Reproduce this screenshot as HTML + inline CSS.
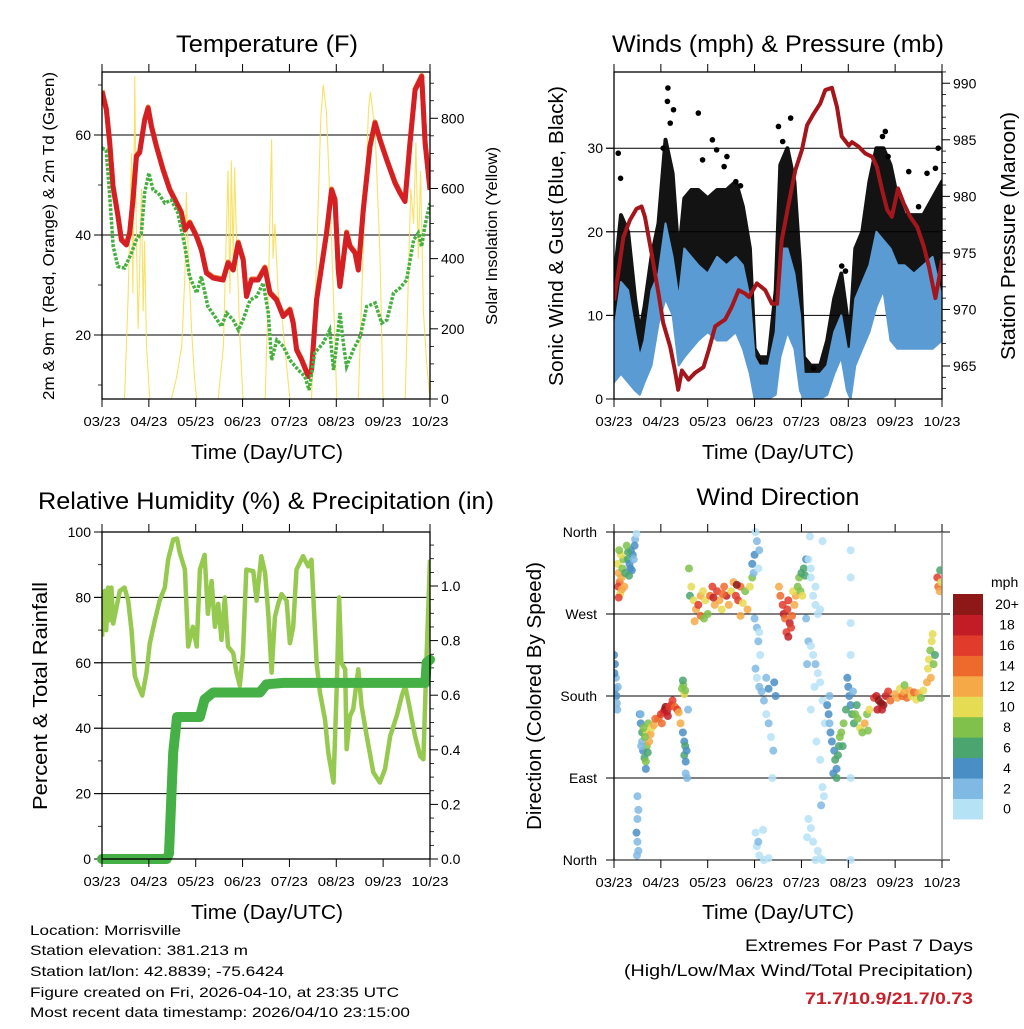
<!DOCTYPE html>
<html><head><meta charset="utf-8"><style>
html,body{margin:0;padding:0;background:#fff}
svg text{font-family:"Liberation Sans",sans-serif;fill:#000}
</style></head><body>
<svg id="s" width="1024" height="1024" viewBox="0 0 1024 1024" xmlns="http://www.w3.org/2000/svg">
<defs>
<clipPath id="c1"><rect x="102" y="72" width="328" height="327"/></clipPath>
<clipPath id="c2"><rect x="614" y="72" width="328" height="327"/></clipPath>
<clipPath id="c3"><rect x="102" y="532" width="328" height="327"/></clipPath>
<clipPath id="c4"><rect x="614" y="526" width="328" height="340"/></clipPath>
</defs>
<g id="g1"></g>
<g id="g2"></g>
<g id="g3"></g>
<g id="g4"></g>
<g id="gt">
<text x="267" y="52" font-size="24" text-anchor="middle" textLength="182" lengthAdjust="spacingAndGlyphs">Temperature (F)</text>
<text x="778" y="52" font-size="24" text-anchor="middle" textLength="332" lengthAdjust="spacingAndGlyphs">Winds (mph) &amp; Pressure (mb)</text>
<text x="266" y="509" font-size="24" text-anchor="middle" textLength="456" lengthAdjust="spacingAndGlyphs">Relative Humidity (%) &amp; Precipitation (in)</text>
<text x="778" y="505" font-size="24" text-anchor="middle" textLength="163" lengthAdjust="spacingAndGlyphs">Wind Direction</text>
<text x="267" y="459" font-size="20" text-anchor="middle" textLength="152" lengthAdjust="spacingAndGlyphs">Time (Day/UTC)</text>
<text x="778" y="459" font-size="20" text-anchor="middle" textLength="152" lengthAdjust="spacingAndGlyphs">Time (Day/UTC)</text>
<text x="267" y="919" font-size="20" text-anchor="middle" textLength="152" lengthAdjust="spacingAndGlyphs">Time (Day/UTC)</text>
<text x="778" y="919" font-size="20" text-anchor="middle" textLength="152" lengthAdjust="spacingAndGlyphs">Time (Day/UTC)</text>
<text transform="translate(54,236) rotate(-90)" font-size="16" text-anchor="middle" textLength="328" lengthAdjust="spacingAndGlyphs">2m &amp; 9m T (Red, Orange) &amp; 2m Td (Green)</text>
<text transform="translate(497,236) rotate(-90)" font-size="16" text-anchor="middle" textLength="178" lengthAdjust="spacingAndGlyphs">Solar Insolation (Yellow)</text>
<text transform="translate(563,236) rotate(-90)" font-size="20" text-anchor="middle" textLength="300" lengthAdjust="spacingAndGlyphs">Sonic Wind &amp; Gust (Blue, Black)</text>
<text transform="translate(1015,236) rotate(-90)" font-size="20" text-anchor="middle" textLength="248" lengthAdjust="spacingAndGlyphs">Station Pressure (Maroon)</text>
<text transform="translate(47,696) rotate(-90)" font-size="20" text-anchor="middle" textLength="228" lengthAdjust="spacingAndGlyphs">Percent &amp; Total Rainfall</text>
<text transform="translate(541,696) rotate(-90)" font-size="20" text-anchor="middle" textLength="268" lengthAdjust="spacingAndGlyphs">Direction (Colored By Speed)</text>
<g font-size="14">
<text x="30" y="935" textLength="151" lengthAdjust="spacingAndGlyphs">Location: Morrisville</text>
<text x="30" y="955" textLength="218" lengthAdjust="spacingAndGlyphs">Station elevation: 381.213 m</text>
<text x="30" y="976" textLength="254" lengthAdjust="spacingAndGlyphs">Station lat/lon: 42.8839; -75.6424</text>
<text x="30" y="997" textLength="369" lengthAdjust="spacingAndGlyphs">Figure created on Fri, 2026-04-10, at 23:35 UTC</text>
<text x="30" y="1017" textLength="380" lengthAdjust="spacingAndGlyphs">Most recent data timestamp: 2026/04/10 23:15:00</text>
</g>
<text x="973" y="951" font-size="17" text-anchor="end" textLength="228" lengthAdjust="spacingAndGlyphs">Extremes For Past 7 Days</text>
<text x="973" y="976" font-size="17" text-anchor="end" textLength="349" lengthAdjust="spacingAndGlyphs">(High/Low/Max Wind/Total Precipitation)</text>
<text x="973" y="1004" font-size="17" font-weight="bold" text-anchor="end" style="fill:#c8202a" textLength="168" lengthAdjust="spacingAndGlyphs">71.7/10.9/21.7/0.73</text>
</g>
</svg>
<script>
// ---------- DATA ----------
const xTickLabels = ["03/23","04/23","05/23","06/23","07/23","08/23","09/23","10/23"];
const tempDays = [0,.093,.164,.235,.342,.413,.52,.591,.662,.734,.805,.912,.983,1.054,1.161,1.303,1.446,1.588,1.695,1.766,1.873,2.016,2.122,2.229,2.372,2.585,2.692,2.799,2.906,3.013,3.084,3.191,3.333,3.476,3.583,3.725,3.868,4.01,4.081,4.152,4.259,4.402,4.473,4.58,4.687,4.793,4.9,4.972,5.043,5.078,5.15,5.221,5.292,5.399,5.47,5.577,5.719,5.826,5.933,6.075,6.254,6.36,6.467,6.574,6.681,6.823,6.895,7];
const tempRed = [68.7,65,58.4,49.7,43.7,39,38,40.4,47,55.7,56.5,63,65.4,61.7,57.7,53,49,46.4,44.4,41,42.4,39.7,37,32.4,31.4,31,34.4,33,38.4,35,27.7,31,31,33.4,28.4,27,23.7,25,22.4,17,15,11.7,13,27,33.7,40.4,49,47,33,29.7,35,40.4,37.7,36.4,33,45,57.7,62.4,59,55,50.4,48.4,46.7,58.4,69,71.7,58.4,49];
const dewDays = [0,.09,.16,.24,.34,.48,.63,.73,.84,.91,1.0,1.09,1.2,1.34,1.48,1.62,1.77,1.87,2.02,2.12,2.26,2.41,2.55,2.66,2.8,2.91,3.01,3.16,3.3,3.44,3.55,3.62,3.73,3.87,4.01,4.19,4.33,4.42,4.54,4.72,4.86,4.94,5.01,5.08,5.15,5.22,5.36,5.51,5.65,5.83,5.97,6.08,6.22,6.36,6.5,6.65,6.75,6.82,6.89,7];
const dewGreen = [57.4,57,48.4,37.7,33.7,33.4,36.4,39,40.4,48.4,52.4,49,48.4,46.4,47,44.4,37.7,31.7,28.4,31.7,25.7,23.7,21.7,24.4,23,21,23,27,27.7,30.4,24.4,15,19,17.7,15,13,11.7,9,16.4,18.4,21,13,18.4,24.4,18.4,13.7,17,19.7,25.7,26.4,22.4,23,28.4,29.4,31,39,40.4,37.7,41.7,46.4];
const solarDays = [.48,.56,.63,.66,.70,.73,.77,.80,.84,.88,.91,.95,1.02, 1.48,1.59,1.70,1.77,1.80,1.84,1.91,1.98,2.02, 2.48,2.59,2.69,2.73,2.76,2.80,2.83,2.87,2.91,2.94,3.01, 3.48,3.55,3.62,3.65,3.69,3.76,3.83,3.90,4.01, 4.47,4.58,4.67,4.72,4.79,4.90,5.01, 5.47,5.58,5.69,5.73,5.83,5.93,6.00, 6.47,6.54,6.59,6.65,6.70,6.75,6.80,6.86,6.93,7.0];
const solarVals = [0,300,700,300,920,500,200,350,600,250,450,150,0, 0,60,150,350,590,420,200,50,0, 0,150,650,300,680,400,660,450,300,180,0, 0,300,740,400,500,300,250,150,0, 0,400,800,895,820,450,0, 0,450,830,875,760,420,0, 0,350,600,500,730,400,650,250,100,0];

const windDays = [0,.15,.3,.45,.55,.65,.8,.95,1.1,1.25,1.38,1.5,1.65,1.8,2.0,2.2,2.4,2.6,2.75,2.9,3.0,3.1,3.3,3.45,3.55,3.7,3.85,3.97,4.05,4.2,4.4,4.55,4.7,4.85,4.97,5.05,5.15,5.3,5.45,5.6,5.75,5.9,6.05,6.2,6.4,6.6,6.8,7.0];
const windLow = [2,3,2,1,0.5,2,4,9,12,10,4,5,6,7,8,7,7,8,6,3,0,0,0,0.5,5,8,6,1,0,0,0,0.5,3,5,1,0,4,6,8,11,13,7,6,6,6,6,6,7];
const windHigh = [8,14,13,8,5,7,13,15,21,17,12,18,17,16,15,17,16,17,16,12,5,4,4,8,18,18,15,10,3,3,3,4,8,10,6,6,12,14,16,20,19,18,16,16,15,16,17,12];
const gustLow = [5,8,6,3,2,4,8,12,16,14,7,10,12,12,13,12,12,13,10,6,1,1,1,2,10,14,12,4,0,1,1,2,5,8,3,1,8,10,12,15,17,12,11,10,10,10,11,12];
const gustHigh = [14,22,20,12,8,11,17,21,31,27,17,24,25,25,24,25,25,26,23,18,6,5,5,13,28,30,26,16,5,4,4,7,12,15,10,9,18,20,26,30,30,28,24,22,22,22,24,26];
const gustOutDays = [.09,.14,1.15,1.14,1.27,1.8,2.1,1.89,2.19,2.41,2.35,3.51,3.77,3.6,5.79,6.29,6.92,6.86,6.68,4.86,4.94,3.08,4.26,5.73,1.2,1.05,2.6,2.7,5.85,6.5];
const gustOutVals = [29.4,26.4,37.2,35.6,34.6,34.2,31,28.6,29.8,29,27.8,32.6,33.6,30.8,32,27.2,30,27.6,27,15.9,15.3,4.5,3.7,31.4,33,30,26,25.5,29,23];
const presDays = [0,.09,.2,.34,.48,.59,.66,.8,.95,1.05,1.2,1.3,1.37,1.45,1.59,1.73,1.91,2.02,2.16,2.26,2.37,2.51,2.66,2.8,2.88,3.05,3.23,3.37,3.48,3.58,3.73,3.87,4.01,4.12,4.26,4.4,4.51,4.65,4.76,4.86,5.01,5.08,5.22,5.36,5.51,5.61,5.72,5.83,5.93,6.06,6.18,6.32,6.47,6.61,6.72,6.86,6.93,7];
const presVals = [970.8,973.2,976.4,977.9,978.9,979.1,978.2,975,971.4,968.8,966.7,964.6,962.9,964.6,963.8,964.4,964.9,966.4,968.5,968.8,969.1,970.2,971.7,971.4,971.1,972.3,971.7,970.5,970.5,976.1,979.4,982.3,984.1,986.3,987.3,988.2,989.4,989.6,987.9,985.3,984.5,984.8,984.4,983.8,983.5,982.6,980.6,978.8,978.2,980.7,979.4,978.2,977.3,975.6,973.8,971,972.6,974.4];

const rhDays = [0,.06,.09,.13,.16,.2,.24,.31,.38,.48,.56,.63,.7,.77,.86,.95,1.02,1.13,1.23,1.34,1.41,1.52,1.6,1.66,1.77,1.84,1.94,2.02,2.09,2.19,2.26,2.34,2.41,2.48,2.55,2.62,2.69,2.8,2.87,2.94,3.01,3.08,3.23,3.3,3.4,3.48,3.55,3.62,3.69,3.76,3.83,3.94,4.01,4.08,4.15,4.29,4.4,4.47,4.58,4.65,4.76,4.83,4.94,5.01,5.06,5.11,5.19,5.22,5.29,5.36,5.47,5.54,5.65,5.79,5.93,6.04,6.15,6.29,6.4,6.47,6.57,6.68,6.79,6.86,6.93,7];
const rhVals = [68,82,70,83,73,83,72,77,82,83,79,70,56,53,50,57,66,73,79,83,91.5,97.7,98,93.6,88.5,65,71,65,88.5,93,75,85,71,78,67,80,65,63,57,53,63,88.5,88,79,92.6,87.5,75,57,74,78,81,79,66,71,88.5,92.6,89.5,91.5,60,51,42.7,32.5,23.4,53,80,60,58,33.6,43.7,45.8,58,46.8,37.6,26.5,23.4,27.5,37.6,43.7,50,53,45.8,37.6,31.5,30.5,63,91.5];
const precDays = [0,1.38,1.43,1.52,1.6,2.09,2.19,2.37,3.37,3.51,3.87,6.9,6.93,7];
const precVals = [0,0,0.02,0.39,0.52,0.52,0.585,0.61,0.61,0.64,0.645,0.645,0.72,0.73];

const dirDays = [.08,.1,.12,.09,.13,.16,.18,.2,.15,.11,.22,.24,.1,.17, .3,.33,.35,.38,.4,.42,.45,.48,.36,.3,.27,.44,.32, 0,.02,.04,.03,.05,.06,.07,.01,.08, .55,.57,.6,.6,.62,.65,.68,.7,.7,.73,.75,.78,.8,.85,.88,.63,.66,.72,.58,.68,.57, .95,1.0,1.05,1.08,1.1,1.13,1.18,1.22,1.25,1.3,1.35,1.02,1.15,1.38,1.42, 1.45,1.48,1.5,1.52,1.47, 1.47,1.5,1.52,1.5,1.53,1.55,1.53,1.56,1.58, .5,.52,.5,.48,.5,.52,.49, 1.6,1.62,1.65,1.7,1.75,1.8,1.85,1.85,1.9,1.95,2.0,2.05,2.1,2.15,2.2,2.25,2.3,2.35,2.4,2.45,2.5,2.55,2.6,2.65,2.7,2.75,2.8,2.85,2.9,2.95,2.7,1.72,1.92,2.12,2.62,2.32, 2.95,3.0,3.05,3.02,2.98,3.1,3.08, 3.0,3.05,3.1,3.08,3.12,3.02,3.05,3.1,3.15,3.2,3.25,3.3,3.35,3.4,3.3,3.45,3.42,3.25,3.38, 3.02,3.05,3.08,3.1,3.2,3.3,3.18, 3.52,3.55,3.6,3.62,3.65,3.7,3.72,3.75,3.78,3.8,3.85,3.88,3.82,3.68,3.72, 3.92,3.95,4.0,4.05,4.08,3.98,4.1,4.02, 4.15,4.2,4.25,4.3,4.35,4.4,4.45,4.2,4.3,4.1,4.18, 4.15,4.2,4.25,4.3,4.35,4.4,4.12,4.28,4.2,4.45,4.5,4.32,4.4,4.45,4.48,4.42, 4.15,4.2,4.25,4.35,4.4,4.3,4.12,4.45, 4.55,4.6,4.62,4.65,4.7,4.72,4.75,4.78,4.8,4.82,4.85,4.88,4.9,4.68,4.58,4.75,4.6, 4.98,5.0,5.02,5.05,5.08,4.95,5.1, 5.12,5.15,5.2,5.25,5.3,5.35,5.4,5.45,5.18,5.42, 5.55,5.6,5.65,5.7,5.75,5.8,5.85,5.72,5.62,5.9, 6.0,6.05,6.1,6.15,6.2,6.25,6.3,6.35,6.4,6.45,6.5,6.55,6.6,6.2, 6.68,6.7,6.72,6.75,6.78,6.8,6.76,6.82,6.85, 6.9,6.92,6.95,6.98,6.96, 5.05,5.05,5.05,5.05,5.05,5.05];
const dirDeg = [325,315,305,300,292,310,320,330,335,340,300,315,288,297, 330,325,320,318,335,330,352,358,340,338,345,345,312, 225,215,200,188,180,172,165,205,190, 160,150,140,130,120,112,108,125,140,150,130,138,145,148,155,145,135,118,125,100,160, 155,160,162,165,168,163,168,170,175,168,165,150,158,162,150, 188,192,182,186,197, 140,130,125,115,108,120,95,90,165, 70,55,45,30,20,10,5, 320,290,300,285,275,280,290,268,295,285,270,290,300,280,295,285,275,300,290,280,295,305,290,285,300,282,295,275,300,310,268,262,265,288,302,292, 325,335,350,360,315,340,320, 265,255,250,240,225,210,200,190,185,175,160,150,135,120,188,180,195,200,90, 30,15,20,5,0,2,33, 300,290,280,270,265,275,285,260,255,268,280,290,295,250,245, 300,310,315,320,312,295,330,290, 330,320,290,280,270,275,350,310,300,265,355, 240,235,225,215,205,195,215,190,165,175,150,130,110,80,70,60, 45,35,20,10,2,0,25,0, 170,150,140,130,120,110,100,115,125,135,140,125,150,95,160,90,180, 200,190,180,170,160,165,185, 150,160,155,145,140,150,160,165,170,142, 178,180,175,172,170,180,185,165,165,175, 182,178,188,180,184,178,186,180,184,176,183,178,186,192, 195,210,220,230,240,248,200,215,225, 310,300,295,305,318, 340,310,260,225,90,0];
const dirSpeed = [10,12,14,16,11,13,9,8,10,9,12,7,17,12, 6,5,4,4,4,3,2,1,5,7,9,4,7, 4,4,3,4,4,2,2,5,3, 4,5,7,3,4,6,8,9,10,9,12,13,10,12,14,9,8,7,3,4,3, 14,16,17,18,20,18,16,17,16,14,17,15,19,13,12, 9,8,10,9,7, 5,4,6,6,5,4,3,2,3, 2,2,2,4,2,2,2, 8,6,10,11,13,16,12,14,10,11,9,14,16,12,17,13,10,15,18,12,11,13,17,16,14,10,9,12,11,8,13,12,8,18,20,15, 4,4,2,1,3,2,1, 2,2,1,3,1,2,1,2,3,2,1,2,1,2,4,5,4,3,1, 1,1,3,1,1,1,1, 12,14,16,18,15,17,16,19,17,14,12,13,10,16,18, 8,9,7,6,7,8,5,10, 1,1,1,1,1,1,1,1,1,3,1, 2,1,1,2,1,1,2,1,1,1,1,1,1,1,1,3, 1,1,1,1,1,1,1,1, 4,3,4,4,5,6,4,7,6,8,9,7,8,4,5,6,3, 4,4,5,4,6,7,3, 7,8,9,10,8,12,9,11,6,8, 17,19,21,22,20,18,17,19,18,14, 13,12,10,14,13,15,12,11,14,10,12,9,11,8, 12,11,10,8,10,11,12,9,7, 16,15,12,10,7, 1,1,1,1,1,1];
const legendLabels = ["0","2","4","6","8","10","12","14","16","18","20+"];
const speedColors = ["#b6e2f6","#80bae4","#4a8ec6","#4aa56e","#7fc14a","#e6dc54","#f5a947","#ee6a2c","#e03b2b","#c21d27","#8e1717"];

// ---------- helpers ----------
const NS="http://www.w3.org/2000/svg";
function el(parent,tag,attrs){const e=document.createElementNS(NS,tag);for(const k in attrs)e.setAttribute(k,attrs[k]);parent.appendChild(e);return e;}
function linePath(xs,ys,fx,fy){return xs.map((d,i)=>(i?"L":"M")+fx(d).toFixed(1)+","+fy(ys[i]).toFixed(1)).join("");}
function bandPath(xs,lo,hi,fx,fy){let p=xs.map((d,i)=>(i?"L":"M")+fx(d).toFixed(1)+","+fy(hi[i]).toFixed(1)).join("");for(let i=xs.length-1;i>=0;i--)p+="L"+fx(xs[i]).toFixed(1)+","+fy(lo[i]).toFixed(1);return p+"Z";}

function frame(g,x0,y0,x1,y1,fx){
  xTickLabels.forEach((lab,i)=>{
    const x=fx(i);
    const t1=el(g,"line",{x1:x,x2:x,y1:y0-8,y2:y0,stroke:"#000","stroke-width":1});
    
    
    const t2=el(g,"line",{x1:x,x2:x,y1:y1,y2:y1+8,stroke:"#000","stroke-width":1});
    
    
    const tx=el(g,"text",{x:x,y:y1+27,"font-size":13,"text-anchor":"middle",textLength:37,lengthAdjust:"spacingAndGlyphs"});
    tx.textContent=lab;
    
    
  });
}
function box(g,x0,y0,x1,y1){
  const r=el(g,"rect",{x:x0,y:y0,width:x1-x0,height:y1-y0,fill:"none",stroke:"#000","stroke-width":1.3});
  
  
}
function yAxis(g,vals,fy,x0,x1,side,labelFn,grid,tlen){
  vals.forEach(v=>{
    const y=fy(v);
    if(grid){const gl=el(g,"line",{x1:x0-8,x2:x1,y1:y,y2:y,stroke:"#000","stroke-width":1});
      
      }
    const xa=side<0?x0:x1;
    const tk=el(g,"line",{x1:xa,x2:xa+side*(tlen||8),y1:y,y2:y,stroke:"#000","stroke-width":1});
    
    
    if(labelFn){const t=el(g,"text",{x:side<0?x0-11:x1+11,y:y+5,"font-size":14,"text-anchor":side<0?"end":"start"});
      t.textContent=labelFn(v);
      
      }
  });
}
function minor(g,vals,fy,x,side){vals.forEach(v=>{const m=el(g,"line",{x1:x,x2:x+side*4,y1:fy(v),y2:fy(v),stroke:"#000","stroke-width":0.8});
  
  });}
function range(a,b,s){const r=[];for(let v=a;v<=b+1e-9;v+=s)r.push(+v.toFixed(4));return r;}

// ---------- Panel 1: Temperature ----------
(function(){
  const g=document.getElementById("g1");
  const X0=102,X1=430,Y0=72,Y1=399;
  const fx=d=>X0+d*(X1-X0)/7;
  const fy=v=>335-(v-20)*5;
  const fs=v=>399-v*0.3509;
  yAxis(g,[20,40,60],fy,X0,X1,-1,v=>v,true);
  minor(g,[10,30,50,70],fy,X0,-1);
  yAxis(g,[0,200,400,600,800],fs,X0,X1,1,v=>v,false);
  minor(g,range(50,900,50).filter(v=>v%200),fs,X1,1);
  const c=el(g,"g",{"clip-path":"url(#c1)"});
  const sp=el(c,"path",{d:linePath(solarDays,solarVals,fx,fs),fill:"none",stroke:"#f7dc4a","stroke-width":1.1,opacity:0.85});
  
  
  const op=el(c,"path",{d:linePath(tempDays,tempRed,fx,v=>fy(v)-1),fill:"none",stroke:"#f07a2a","stroke-width":5,"stroke-linejoin":"round"});
  
  
  const rp=el(c,"path",{d:linePath(tempDays,tempRed,fx,fy),fill:"none",stroke:"#d42024","stroke-width":5,"stroke-linejoin":"round"});
  
  
  const gp=el(c,"path",{d:linePath(dewDays,dewGreen,fx,fy),fill:"none",stroke:"#45b03f","stroke-width":3.5,"stroke-dasharray":"3 1.5"});
  
  
  box(g,X0,Y0,X1,Y1);
  frame(g,X0,Y0,X1,Y1,fx);
})();

// ---------- Panel 2: Winds ----------
(function(){
  const g=document.getElementById("g2");
  const X0=614,X1=942,Y0=72,Y1=399;
  const fx=d=>X0+d*(X1-X0)/7;
  const fy=v=>399-v*8.36;
  const fp=p=>366-(p-965)*11.31;
  yAxis(g,[0,10,20,30],fy,X0,X1,-1,v=>v,true);
  yAxis(g,[965,970,975,980,985,990],fp,X0,X1,1,v=>v,false);
  minor(g,range(963,991,1).filter(v=>v%5),fp,X1,1);
  const c=el(g,"g",{"clip-path":"url(#c2)"});
  const gb=el(c,"path",{d:bandPath(windDays,gustLow,gustHigh,fx,fy),fill:"#000",stroke:"#000","stroke-width":4,"stroke-linejoin":"round",opacity:0.92});
  
  
  gustOutDays.forEach((d,i)=>{
    const dot=el(c,"circle",{cx:fx(d),cy:fy(gustOutVals[i]),r:2.8,fill:"#000"});
    
    
  });
  const wb=el(c,"path",{d:bandPath(windDays,windLow,windHigh,fx,fy),fill:"#5a9bd3",stroke:"#5a9bd3","stroke-width":2,"stroke-linejoin":"round"});
  
  
  const pp=el(c,"path",{d:linePath(presDays,presVals,fx,fp),fill:"none",stroke:"#a3171c","stroke-width":4,"stroke-linejoin":"round"});
  
  
  box(g,X0,Y0,X1,Y1);
  frame(g,X0,Y0,X1,Y1,fx);
})();

// ---------- Panel 3: Humidity ----------
(function(){
  const g=document.getElementById("g3");
  const X0=102,X1=430,Y0=532,Y1=859;
  const fx=d=>X0+d*(X1-X0)/7;
  const fy=v=>859-v*3.27;
  const fr=v=>859-v*273;
  yAxis(g,[0,20,40,60,80,100],fy,X0,X1,-1,v=>v,true);
  minor(g,[10,30,50,70,90],fy,X0,-1);
  yAxis(g,[0,0.2,0.4,0.6,0.8,1.0],fr,X0,X1,1,v=>v.toFixed(1),false);
  minor(g,range(0.05,1.15,0.05).filter(v=>Math.abs(v*5-Math.round(v*5))>0.01),fr,X1,1);
  const c=el(g,"g",{"clip-path":"url(#c3)"});
  const rh=el(c,"path",{d:linePath(rhDays,rhVals,fx,fy),fill:"none",stroke:"#96c94f","stroke-width":4.5,"stroke-linejoin":"round"});
  
  
  const pr=el(g,"path",{d:linePath(precDays,precVals,fx,fr),fill:"none",stroke:"#45b045","stroke-width":10,"stroke-linejoin":"round","stroke-linecap":"round"});
  
  
  box(g,X0,Y0,X1,Y1);
  frame(g,X0,Y0,X1,Y1,fx);
})();

// ---------- Panel 4: Direction ----------
(function(){
  const g=document.getElementById("g4");
  const X0=614,X1=942,Y0=532,Y1=860;
  const fx=d=>X0+d*(X1-X0)/7;
  const fy=v=>860-v*(328/360);
  const names={0:"North",90:"East",180:"South",270:"West",360:"North"};
  [0,90,180,270,360].forEach(v=>{
    const y=fy(v);
    const gl=el(g,"line",{x1:X0-8,x2:X1+8,y1:y,y2:y,stroke:"#000","stroke-width":1});
    
    
    const t=el(g,"text",{x:X0-17,y:y+5,"font-size":14,"text-anchor":"end"});
    t.textContent=names[v];
    
    
  });
  const c=el(g,"g",{"clip-path":"url(#c4)"});
  dirDays.forEach((d,i)=>{
    const s=dirSpeed[i];
    const idx=Math.min(10,Math.floor(s/2));
    const dot=el(c,"circle",{cx:fx(d),cy:fy(dirDeg[i]),r:4,fill:speedColors[idx],opacity:0.85});
    
    
  });
  const lb=el(g,"line",{x1:X0,x2:X0,y1:Y0,y2:Y1,stroke:"#000","stroke-width":1.3});
  
  
  const rb=el(g,"line",{x1:X1,x2:X1,y1:Y0,y2:Y1,stroke:"#777","stroke-width":1.3});
  
  
  frame(g,X0,Y0,X1,Y1,fx);
  const lg=el(g,"g",{});
  
  
  const lt=el(lg,"text",{x:991,y:587,"font-size":14});
  lt.textContent="mph";
  
  
  const bh=20.45, top=594;
  legendLabels.forEach((lab,i)=>{
    const y=top+(10-i)*bh;
    const r=el(lg,"rect",{x:953,y:y,width:30,height:bh+0.5,fill:speedColors[i]});
    
    
    const t=el(lg,"text",{x:1007,y:y+bh/2+5,"font-size":14,"text-anchor":"middle"});
    t.textContent=lab;
    
    
  });
})();
</script>
</body></html>
